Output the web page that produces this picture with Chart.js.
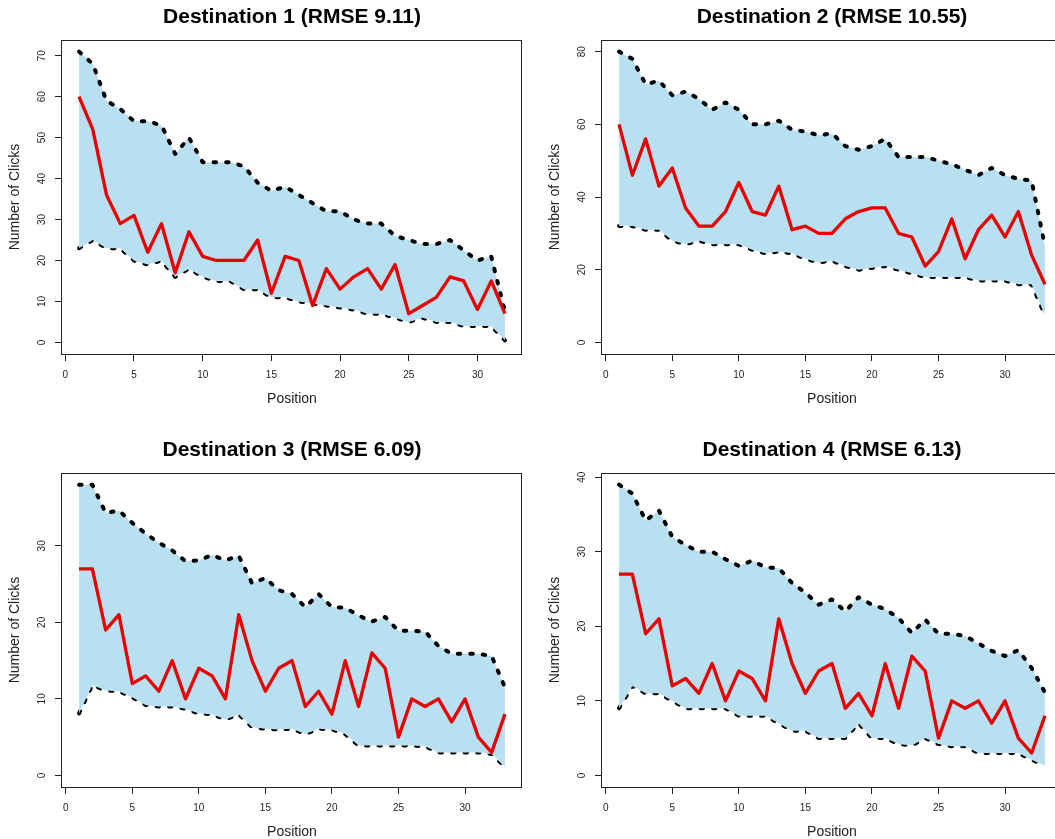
<!DOCTYPE html>
<html>
<head>
<meta charset="utf-8">
<title>Clicks by position</title>
<script src="https://cdn.jsdelivr.net/npm/chart.js@4.4.1/dist/chart.umd.min.js"></script>
<style>
  html, body { margin: 0; padding: 0; background: #ffffff; }
  body { width: 1055px; height: 839px; overflow: hidden; position: relative; }
  canvas { position: absolute; }
</style>
</head>
<body>
<canvas id="dest1" width="540" height="433" style="left:0px;top:0px"></canvas>
<canvas id="dest2" width="540" height="433" style="left:540px;top:0px"></canvas>
<canvas id="dest3" width="540" height="433" style="left:0px;top:433px"></canvas>
<canvas id="dest4" width="540" height="433" style="left:540px;top:433px"></canvas>
<script>
// Positions shown on the x axis
const POSITIONS_32 = [1, 2, 3, 4, 5, 6, 7, 8, 9, 10, 11, 12, 13, 14, 15, 16,
  17, 18, 19, 20, 21, 22, 23, 24, 25, 26, 27, 28, 29, 30, 31, 32];
const POSITIONS_33 = [1, 2, 3, 4, 5, 6, 7, 8, 9, 10, 11, 12, 13, 14, 15, 16,
  17, 18, 19, 20, 21, 22, 23, 24, 25, 26, 27, 28, 29, 30, 31, 32, 33];

// Destination 1
const clicks1 = [60, 52, 36, 29, 31, 22, 29, 17, 27, 21, 20, 20, 20, 25, 12, 21,
  20, 9, 18, 13, 16, 18, 13, 19, 7, 9, 11, 16, 15, 8, 15, 7];
const upper1 = [71, 68, 59, 57, 54, 54, 53, 46, 50, 44, 44, 44, 43, 39, 37, 38,
  36, 34, 32, 32, 30, 29, 29, 26, 25, 24, 24, 25, 22.5, 20, 21, 7.5];
const lower1 = [23, 25, 23, 23, 20, 19, 20, 16, 18, 16, 15, 15, 13, 13, 11, 11,
  10, 9.5, 9, 8.5, 8, 7, 7, 6, 5, 6, 5, 5, 4, 4, 4, 0.5];

// Destination 2
const clicks2 = [60, 46, 56, 43, 48, 37, 32, 32, 36, 44, 36, 35, 43, 31, 32, 30,
  30, 34, 36, 37, 37, 30, 29, 21, 25, 34, 23, 31, 35, 29, 36, 24, 16];
const upper2 = [80, 78, 71, 72, 68, 69, 67, 64, 66, 64, 60, 60, 61, 58.5, 58, 57,
  57.5, 54, 53, 54, 56, 51, 51, 51, 50, 49, 47.5, 46, 48, 46, 45, 44.5, 26.5];
const lower2 = [32, 32, 31, 31, 28, 27, 28, 27, 27, 27, 25.5, 24.5, 25, 24.5, 23, 22,
  22.5, 21, 20, 20.5, 21, 20, 19, 18, 18, 18, 18, 17, 17, 17, 16, 16, 7.5];

// Destination 3
const clicks3 = [27, 27, 19, 21, 12, 13, 11, 15, 10, 14, 13, 10, 21, 15, 11, 14,
  15, 9, 11, 8, 15, 9, 16, 14, 5, 10, 9, 10, 7, 10, 5, 3, 8];
const upper3 = [38, 38, 34.3, 34.6, 33, 31.6, 30.4, 29.4, 28, 28.1, 28.8, 28.1, 28.7, 25.1, 25.8, 24.2,
  23.7, 22, 23.7, 22, 21.9, 20.9, 20.1, 20.7, 18.9, 18.9, 18.8, 16.9, 15.9, 15.9, 15.9, 15.6, 11.5];
const lower3 = [8.1, 11.8, 11.1, 11, 10.2, 9.2, 9, 9, 8.7, 8.1, 8, 7.3, 8, 6.3, 6.1, 6,
  6.1, 5.4, 6.1, 6, 5.4, 3.9, 3.9, 3.9, 3.9, 3.9, 3.8, 3, 3, 3, 3, 2.8, 1.1];

// Destination 4
const clicks4 = [27, 27, 19, 21, 12, 13, 11, 15, 10, 14, 13, 10, 21, 15, 11, 14,
  15, 9, 11, 8, 15, 9, 16, 14, 5, 10, 9, 10, 7, 10, 5, 3, 8];
const upper4 = [39, 37.8, 34.2, 35.5, 32, 30.9, 30, 30, 29, 28.1, 28.8, 27.9, 27.8, 25.8, 24.5, 22.9,
  23.6, 22, 23.9, 22.9, 22.3, 21.1, 19.1, 20.9, 19, 19, 18.7, 17.7, 16.7, 16, 16.8, 14.4, 11.1];
const lower4 = [9, 12, 11, 11, 10, 9, 9, 9, 9, 8, 8, 8, 7, 6, 6, 5,
  5, 5, 7, 5, 5, 4.2, 4, 5, 4.2, 3.9, 3.9, 3, 3, 3, 3, 2.1, 1.3];

const titles = [
  'Destination 1 (RMSE 9.11)',
  'Destination 2 (RMSE 10.55)',
  'Destination 3 (RMSE 6.09)',
  'Destination 4 (RMSE 6.13)'
];
const yTickSteps = [10, 20, 10, 10];

// Colours and line styles
const RED = '#e80000';
const BAND = '#b9e0f1';
const INK = '#222222';
const FONT = '"Liberation Sans", Arial, Helvetica, sans-serif';

Chart.defaults.font.family = FONT;
Chart.defaults.color = INK;

// Plain box around the plotting region
const frameBox = {
  id: 'frameBox',
  afterDatasetsDraw(chart) {
    const { ctx, chartArea: a } = chart;
    ctx.save();
    ctx.strokeStyle = INK;
    ctx.lineWidth = 1;
    ctx.strokeRect(a.left - 0.5, a.top + 0.5, a.right - a.left, a.bottom - a.top);
    ctx.restore();
  }
};

function toPoints(positions, values) {
  return values.map((v, i) => ({ x: positions[i], y: v }));
}

function buildPanel(canvasId, title, positions, clicks, upper, lower, yStep) {
  const canvas = document.getElementById(canvasId);
  if (!canvas) return null;

  // axis limits: data range plus 4% on each side, y from zero
  const xFirst = positions[0];
  const xLast = positions[positions.length - 1];
  const xPad = (xLast - xFirst) * 0.04;
  const yTop = Math.max(...upper);
  const yPad = yTop * 0.04;

  const dashed = {
    borderColor: '#000000',
    borderWidth: 4,
    borderDash: [2.5, 10],
    borderCapStyle: 'round',
    borderJoinStyle: 'round',
    pointRadius: 0,
    tension: 0
  };

  return new Chart(canvas, {
    type: 'line',
    data: {
      datasets: [
        {
          label: 'Clicks',
          data: toPoints(positions, clicks),
          borderColor: RED,
          borderWidth: 3.3,
          borderJoinStyle: 'round',
          pointRadius: 0,
          tension: 0,
          fill: false
        },
        Object.assign({
          label: 'Upper',
          data: toPoints(positions, upper),
          fill: '+1',
          backgroundColor: BAND
        }, dashed),
        Object.assign({
          label: 'Lower',
          data: toPoints(positions, lower),
          fill: false
        }, dashed)
      ]
    },
    options: {
      responsive: false,
      animation: false,
      layout: { padding: { left: 0, right: 18, top: 0, bottom: 0 } },
      plugins: {
        legend: { display: false },
        tooltip: { enabled: false },
        title: {
          display: true,
          text: title,
          fullSize: false,
          color: '#000000',
          font: { size: 21, weight: 'bold', lineHeight: 1.2 },
          padding: { top: 4.5, bottom: 10.3 }
        }
      },
      scales: {
        x: {
          type: 'linear',
          min: xFirst - xPad,
          max: xLast + xPad,
          afterFit(scale) { scale.height = 79; },
          border: { display: false },
          grid: { drawOnChartArea: false, drawTicks: true, tickLength: 7, color: INK, lineWidth: 1 },
          ticks: {
            stepSize: 5,
            includeBounds: false,
            autoSkip: false,
            maxRotation: 0,
            padding: 8,
            color: INK,
            font: { size: 10 }
          },
          title: {
            display: true,
            text: 'Position',
            color: INK,
            font: { size: 14 },
            padding: { top: 0, bottom: 25 }
          }
        },
        y: {
          type: 'linear',
          min: 0 - yPad,
          max: yTop + yPad,
          afterFit(scale) { scale.width = 62; },
          border: { display: false },
          grid: { drawOnChartArea: false, drawTicks: true, tickLength: 7, color: INK, lineWidth: 1 },
          ticks: {
            stepSize: yStep,
            includeBounds: false,
            minRotation: 90,
            maxRotation: 90,
            crossAlign: 'center',
            padding: 7,
            color: INK,
            font: { size: 10 }
          },
          title: {
            display: true,
            text: 'Number of Clicks',
            color: INK,
            font: { size: 14 },
            padding: { top: 7, bottom: 0 }
          }
        }
      }
    },
    plugins: [frameBox]
  });
}

buildPanel('dest1', titles[0], POSITIONS_32, clicks1, upper1, lower1, yTickSteps[0]);
buildPanel('dest2', titles[1], POSITIONS_33, clicks2, upper2, lower2, yTickSteps[1]);
buildPanel('dest3', titles[2], POSITIONS_33, clicks3, upper3, lower3, yTickSteps[2]);
buildPanel('dest4', titles[3], POSITIONS_33, clicks4, upper4, lower4, yTickSteps[3]);
</script>
</body>
</html>
